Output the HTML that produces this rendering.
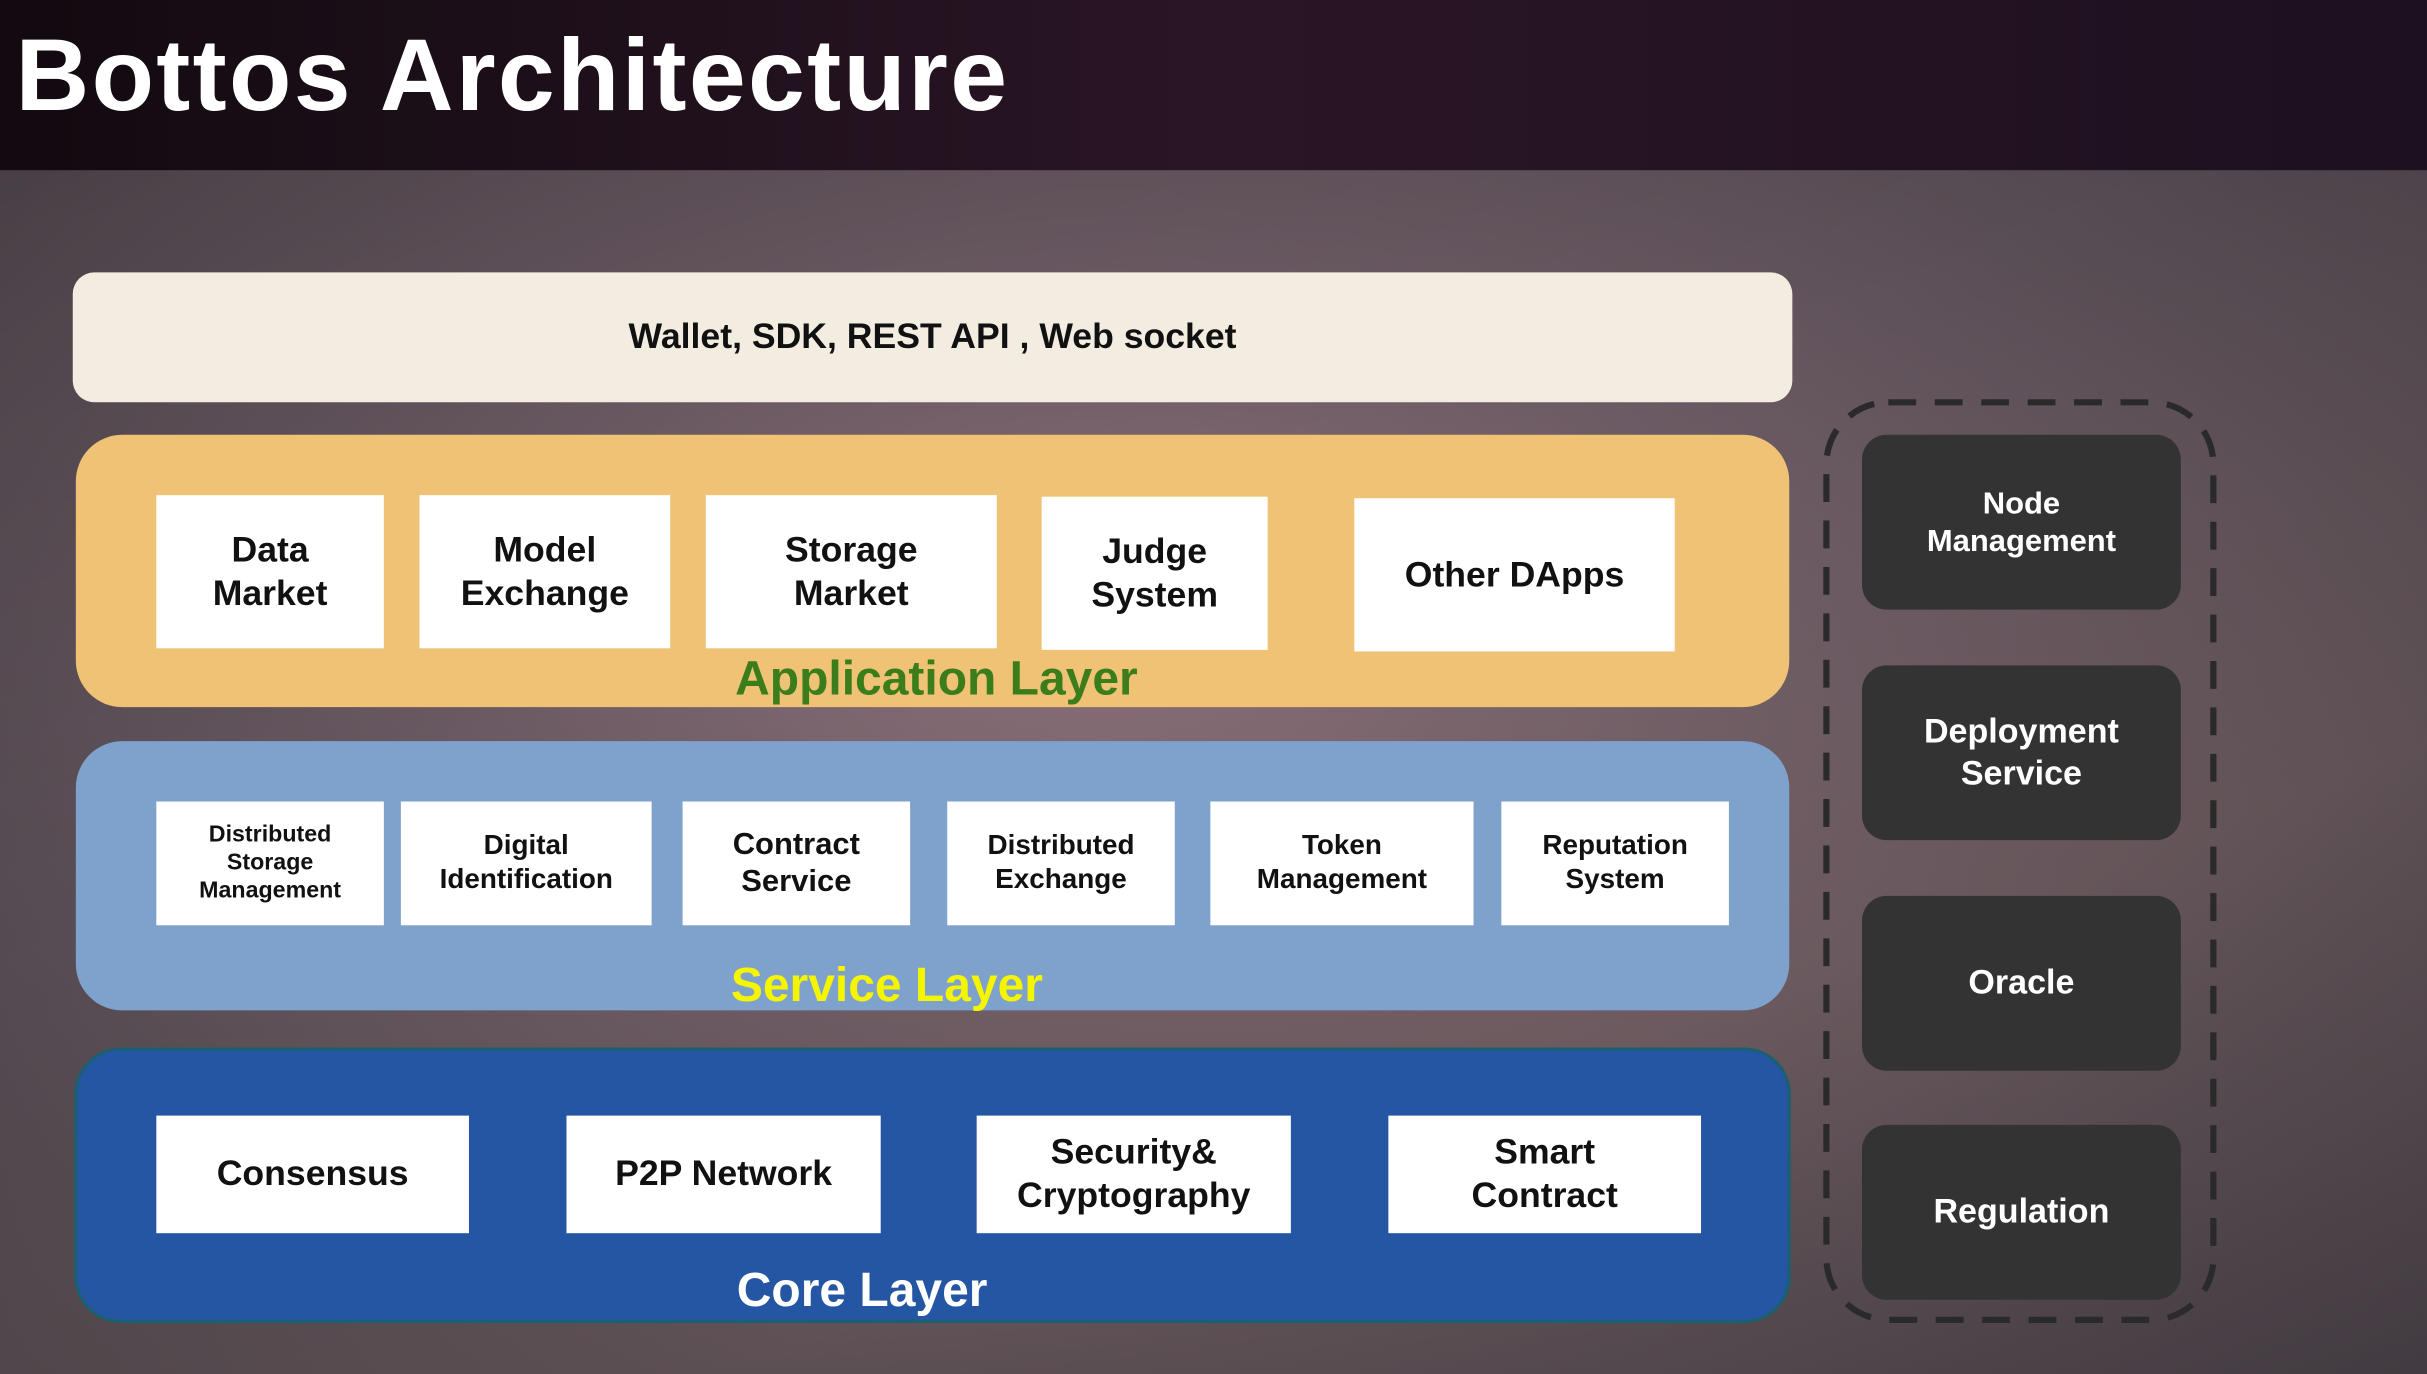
<!DOCTYPE html>
<html><head><meta charset="utf-8"><style>
html,body{margin:0;padding:0;width:2427px;height:1374px;overflow:hidden;background:#4d4449}
#s{position:absolute;left:0;top:0;width:1568px;height:888px;transform:scale(1.5478,1.5473);transform-origin:0 0;
background:radial-gradient(ellipse at 45% 45%,#8a6f78 0%,#6b5a63 35%,#4f464d 75%,#453e44 100%);font-family:"Liberation Sans",sans-serif;font-weight:bold;overflow:hidden}
.a{position:absolute;box-sizing:border-box;display:flex;align-items:center;justify-content:center;text-align:center;line-height:1.2}
.w{background:#fff;color:#111}
.d{background:#333;color:#fff;border-radius:16px;font-size:22px}
.lab{position:absolute;transform:translateX(-50%);white-space:nowrap;font-size:31px}
</style></head><body><div id="s">
<div style="position:absolute;left:0;top:0;width:1568px;height:110px;background:linear-gradient(90deg,#120a10,#2a1525 50%,#1d1020)"></div>
<div style="position:absolute;left:10px;top:10px;color:#fff;font-size:66px;letter-spacing:1.5px;white-space:nowrap">Bottos Architecture</div>
<div style="position:absolute;left:0;top:110px;width:1568px;height:778px;background:linear-gradient(160deg,rgba(0,0,0,0.12),rgba(0,0,0,0) 40%,rgba(180,140,120,0.12) 70%,rgba(0,0,0,0.05))"></div>

<div class="a" style="left:47px;top:176px;width:1111px;height:84px;background:#f2ece1;border-radius:14px;font-size:23px;color:#111">Wallet, SDK, REST API , Web socket</div>

<div class="a" style="left:49px;top:281px;width:1107px;height:176px;background:#efc275;border-radius:30px"></div>
<div class="a w" style="left:101px;top:320px;width:147px;height:99px;font-size:23px">Data<br>Market</div>
<div class="a w" style="left:271px;top:320px;width:162px;height:99px;font-size:23px">Model<br>Exchange</div>
<div class="a w" style="left:456px;top:320px;width:188px;height:99px;font-size:23px">Storage<br>Market</div>
<div class="a w" style="left:673px;top:321px;width:146px;height:99px;font-size:23px">Judge<br>System</div>
<div class="a w" style="left:875px;top:322px;width:207px;height:99px;font-size:23px">Other DApps</div>
<div class="lab" style="left:605px;top:421px;color:#3a7d1a">Application Layer</div>

<div class="a" style="left:49px;top:479px;width:1107px;height:174px;background:#7fa2cc;border-radius:30px"></div>
<div class="a w" style="left:101px;top:518px;width:147px;height:80px;font-size:15px">Distributed<br>Storage<br>Management</div>
<div class="a w" style="left:259px;top:518px;width:162px;height:80px;font-size:18px">Digital<br>Identification</div>
<div class="a w" style="left:441px;top:518px;width:147px;height:80px;font-size:20px">Contract<br>Service</div>
<div class="a w" style="left:612px;top:518px;width:147px;height:80px;font-size:18px">Distributed<br>Exchange</div>
<div class="a w" style="left:782px;top:518px;width:170px;height:80px;font-size:18px">Token<br>Management</div>
<div class="a w" style="left:970px;top:518px;width:147px;height:80px;font-size:18px">Reputation<br>System</div>
<div class="lab" style="left:573px;top:619px;color:#f5f500">Service Layer</div>

<div class="a" style="left:48px;top:677px;width:1109px;height:178px;background:#2456a4;border:2px solid #1a6070;border-radius:30px"></div>
<div class="a w" style="left:101px;top:721px;width:202px;height:76px;font-size:23px">Consensus</div>
<div class="a w" style="left:366px;top:721px;width:203px;height:76px;font-size:23px">P2P Network</div>
<div class="a w" style="left:631px;top:721px;width:203px;height:76px;font-size:23px">Security&amp;<br>Cryptography</div>
<div class="a w" style="left:897px;top:721px;width:202px;height:76px;font-size:23px">Smart<br>Contract</div>
<div class="lab" style="left:557px;top:816px;color:#fff">Core Layer</div>

<svg style="position:absolute;left:0;top:0" width="1568" height="888"><rect x="1180" y="260" width="250" height="593" rx="40" fill="none" stroke="#2a2a2a" stroke-width="4" stroke-dasharray="18 12"/></svg>
<div class="a d" style="left:1203px;top:281px;width:206px;height:113px;font-size:20px">Node<br>Management</div>
<div class="a d" style="left:1203px;top:430px;width:206px;height:113px">Deployment<br>Service</div>
<div class="a d" style="left:1203px;top:579px;width:206px;height:113px">Oracle</div>
<div class="a d" style="left:1203px;top:727px;width:206px;height:113px">Regulation</div>
</div></body></html>
